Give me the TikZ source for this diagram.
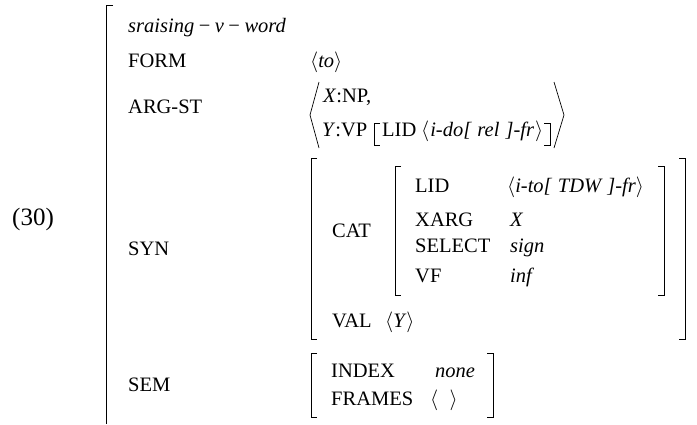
\documentclass[tikz,border=0pt]{standalone}
\usepackage{fontspec}
\setmainfont{Liberation Serif}
\newcommand{\lang}{$\langle$}
\newcommand{\rang}{$\rangle$}
\newcommand{\msep}{\hspace{0.22em}−\hspace{0.22em}}
\begin{document}
\begin{tikzpicture}[x=1pt,y=-1pt,
  lbl/.style={anchor=base west, inner sep=0pt, font=\fontsize{20.5}{24}\selectfont},
  brk/.style={line width=0.9pt}]
\useasboundingbox (0,0) rectangle (697,424);

% example number
\node[lbl, font=\fontsize{25}{30}\selectfont] (num) at (12,225) {(30)};

% outer AVM: open bracket running off the bottom
\draw[brk] (113,5) -- (106,5) -- (106,424);

\node[lbl] (type) at (128,32) {\textit{sraising}\msep\textit{v}\msep\textit{word}};

\node[lbl] (form) at (128,67) {FORM};
\node[lbl] (formv) at (310,67) {\lang\textit{to}\rang};

% ARG-ST list
\node[lbl] (argst) at (128,113) {ARG-ST};
\draw[brk, line width=0.7pt] (319,82) -- (310,115) -- (319,148);
\node[lbl] (xnp) at (323,102) {\textit{X}:NP,};
\node[lbl] (yvp) at (322,136) {\textit{Y}:VP};
\draw[brk] (380,123) -- (374,123) -- (374,145) -- (380,145);
\node[lbl] (lida) at (382,136) {LID};
\node[lbl] (lidav) at (421,136) {\lang\hspace{0.05em}\textit{i-do[\hspace{0.3em}rel\hspace{0.3em}]-fr}\hspace{0.05em}\rang};
\draw[brk] (544,123) -- (550,123) -- (550,145) -- (544,145);
\draw[brk, line width=0.7pt] (554,82) -- (564,115) -- (554,148);

% SYN
\node[lbl] (syn) at (128,255) {SYN};
\draw[brk] (317,158) -- (311,158) -- (311,339) -- (317,339);
\draw[brk] (679,158) -- (685,158) -- (685,339) -- (679,339);
\node[lbl] (cat) at (332,237) {CAT};
\draw[brk] (401,166) -- (395,166) -- (395,295) -- (401,295);
\draw[brk] (658,166) -- (664,166) -- (664,295) -- (658,295);
\node[lbl] (lidb) at (415,192) {LID};
\node[lbl] (lidbv) at (507,192) {\lang\textit{i-to[\hspace{0.3em}TDW\hspace{0.3em}]-fr}\rang};
\node[lbl] (xarg) at (415,226) {XARG};
\node[lbl] (xargv) at (510,226) {\textit{X}};
\node[lbl] (sel) at (415,252) {SELECT};
\node[lbl] (selv) at (510,252) {\textit{sign}};
\node[lbl] (vf) at (415,282) {VF};
\node[lbl] (vfv) at (510,282) {\textit{inf}};
\node[lbl] (val) at (332,327) {VAL};
\node[lbl] (valv) at (385,327) {\lang\textit{Y}\rang};

% SEM
\node[lbl] (sem) at (128,391) {SEM};
\draw[brk] (317,353) -- (311,353) -- (311,417) -- (317,417);
\draw[brk] (487,353) -- (493,353) -- (493,417) -- (487,417);
\node[lbl] (idx) at (331,377) {INDEX};
\node[lbl] (idxv) at (435,377) {\textit{none}};
\node[lbl] (frm) at (331,405) {FRAMES};
\node[lbl] (frmv) at (430,405) {\lang\hspace{0.55em}\rang};
\end{tikzpicture}
\end{document}
